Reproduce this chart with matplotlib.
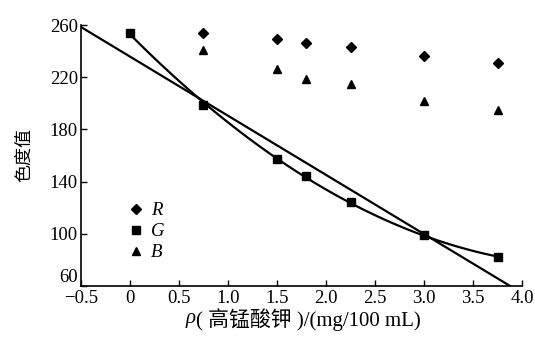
import numpy as np
import matplotlib
matplotlib.use("Agg")
from matplotlib import pyplot as plt

# concentration of KMnO4 (mg/100 mL)
conc = [0, 0.75, 1.5, 1.8, 2.25, 3.0, 3.75]
r_vals = [254, 249, 246, 243, 236, 231]      # R starts at 0.75
b_vals = [241, 226, 219, 215, 202, 195]      # B starts at 0.75
g_vals = [254, 199, 157, 144, 124, 99, 82]
xticks = [-0.5, 0, 0.5, 1.0, 1.5, 2.0, 2.5, 3.0, 3.5, 4.0]
xticklabels = ["\u22120.5", "0", "0.5", "1.0", "1.5", "2.0", "2.5", "3.0", "3.5", "4.0"]
yticks = [60, 100, 140, 180, 220, 260]

plt.rcParams['font.family'] = ['Liberation Serif', 'Noto Sans CJK SC']
fig = plt.figure(figsize=(5.35, 3.38), dpi=100)
ax = fig.add_axes([0.151, 0.154, 0.825, 0.772])

x_rb = conc[1:]
ax.plot(x_rb, r_vals, 'kD', ms=5.5, ls='none', label='R')
ax.plot(conc, g_vals, 'ks', ms=6, ls='none', label='G')
ax.plot(x_rb, b_vals, 'k^', ms=6, ls='none', label='B')

# linear fit of G
k, b = np.polyfit(conc, g_vals, 1)
xl = np.array([-0.5, 4.0])
ax.plot(xl, k * xl + b, 'k-', lw=1.6)
# curve fit of G
c = np.polyfit(conc, g_vals, 2)
xc = np.linspace(0, 3.75, 100)
ax.plot(xc, np.polyval(c, xc), 'k-', lw=1.6)

ax.set_xlim(-0.5, 4.0)
ax.set_ylim(60, 260)
ax.set_xticks(xticks)
ax.set_xticklabels(xticklabels)
ax.set_yticks(yticks)
ax.tick_params(direction='in', length=4, labelsize=13.5, width=1, pad=2)
ax.tick_params(axis='x', pad=3)
ax.get_yticklabels()[0].set_verticalalignment('bottom')
ax.spines['top'].set_visible(False)
ax.spines['right'].set_visible(False)
ax.spines['left'].set_linewidth(1.2)
ax.spines['bottom'].set_linewidth(1.2)

ax.set_ylabel('色度值', fontsize=13, family=['Noto Sans CJK SC'], labelpad=12)
xlab = ax.set_xlabel('( 高锰酸钾 )/(mg/100 mL)', fontsize=15, labelpad=1)
xlab.set_x(0.5 + 0.015)
ax.annotate('ρ', xy=(0, 0.16), xycoords=xlab, ha='right', va='bottom',
            fontsize=15, style='italic', family='Liberation Serif')

leg = ax.legend(loc='lower left', bbox_to_anchor=(0.065, 0.03), frameon=False,
                handletextpad=0.3, labelspacing=0.2, handlelength=1,
                prop={'style': 'italic', 'size': 13.5})

plt.savefig('out.png', dpi=100)
